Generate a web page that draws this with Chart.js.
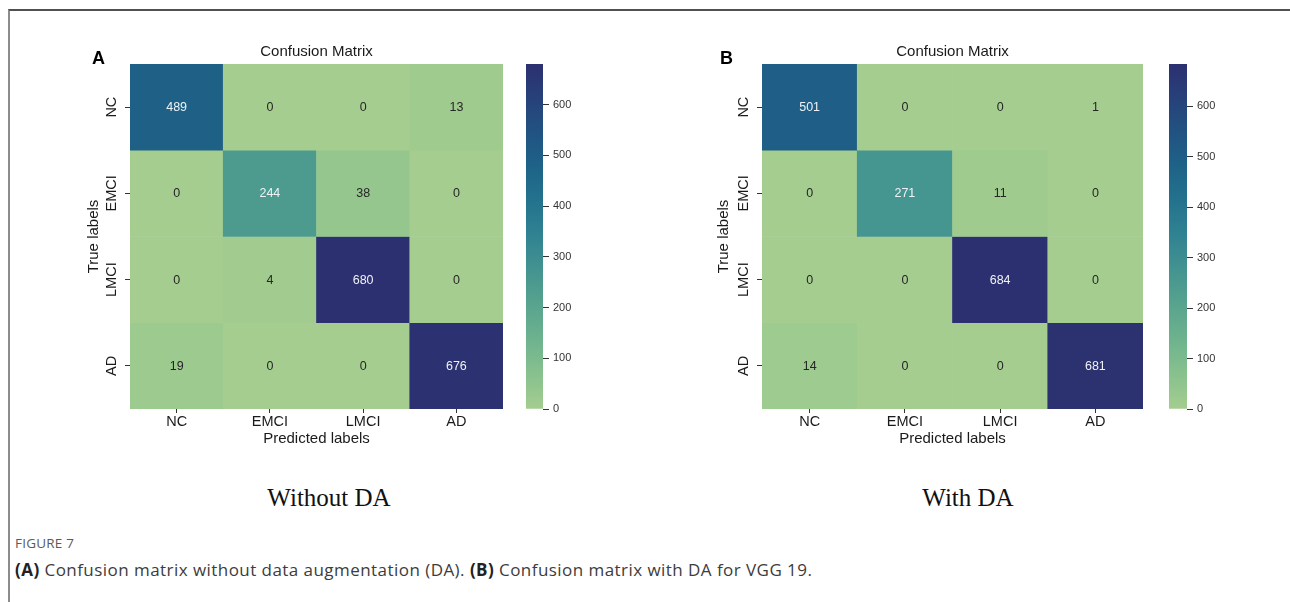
<!DOCTYPE html>
<html><head><meta charset="utf-8">
<script src="https://cdn.jsdelivr.net/npm/chart.js@4.4.1/dist/chart.umd.min.js"></script>
<style>
html,body{margin:0;padding:0;background:#fff;}
body{width:1290px;height:602px;position:relative;overflow:hidden;font-family:"Liberation Sans",Arial,sans-serif;}
.frame{position:absolute;left:8px;top:9px;width:1300px;height:620px;border-top:2px solid #505050;border-left:2px solid #8c8c8c;box-sizing:border-box;}
canvas{position:absolute;}
.panel{position:absolute;font:bold 18px/1 "Liberation Sans",Arial,sans-serif;color:#000;}
.sub{position:absolute;font:25px/1 "Liberation Serif","Times New Roman",serif;color:#111;transform:translateX(-50%);white-space:nowrap;}
.fig{position:absolute;left:15px;top:537px;font:13.5px/1 "Open Sans",sans-serif;color:#5a5a5a;letter-spacing:0.2px;}
.cap{position:absolute;left:15px;top:561px;font:17px/1 "Open Sans",sans-serif;color:#3c3c3c;white-space:nowrap;letter-spacing:0.45px;}
.cap b{color:#222;font-weight:700;}
</style>
</head><body>
<div class="frame"></div>
<canvas id="hA" width="513" height="440" style="left:60px;top:30px"></canvas>
<canvas id="cA" width="70" height="440" style="left:516px;top:30px"></canvas>
<canvas id="hB" width="521" height="440" style="left:692px;top:30px"></canvas>
<canvas id="cB" width="70" height="440" style="left:1159px;top:30px"></canvas>
<div class="panel" style="left:92px;top:49px">A</div>
<div class="panel" style="left:720px;top:49px">B</div>
<div class="sub" style="left:329px;top:485px">Without DA</div>
<div class="sub" style="left:968px;top:485px">With DA</div>
<div class="fig">FIGURE 7</div>
<div class="cap"><b>(A)</b> Confusion matrix without data augmentation (DA). <b>(B)</b> Confusion matrix with DA for VGG 19.</div>
<script>
// ---- data ----
const categories = ['NC', 'EMCI', 'LMCI', 'AD'];
const valuesWithoutDA = [
  [489, 0, 0, 13],
  [0, 244, 38, 0],
  [0, 4, 680, 0],
  [19, 0, 0, 676]
];
const valuesWithDA = [
  [501, 0, 0, 1],
  [0, 271, 11, 0],
  [0, 0, 684, 0],
  [14, 0, 0, 681]
];
const colorbarTicks = [0, 100, 200, 300, 400, 500, 600];

// ---- colormap (seaborn "crest"-like) ----
const cmapStops = [
  [0.00, [164,205,143]], [0.10, [136,193,142]], [0.20, [110,179,142]],
  [0.30, [89,164,142]],  [0.40, [68,148,144]],  [0.50, [49,131,146]],
  [0.60, [36,115,142]],  [0.70, [30,99,136]],   [0.80, [33,83,130]],
  [0.90, [39,65,122]],   [1.00, [44,48,112]]
];
function cmapRGB(t) {
  t = Math.max(0, Math.min(1, t));
  for (let i = 1; i < cmapStops.length; i++) {
    const [t1, c1] = cmapStops[i], [t0, c0] = cmapStops[i-1];
    if (t <= t1) {
      const f = (t - t0) / (t1 - t0);
      return c0.map((v, k) => Math.round(v + (c1[k] - v) * f));
    }
  }
  return cmapStops[cmapStops.length-1][1];
}
const rgbStr = c => `rgb(${c[0]},${c[1]},${c[2]})`;
function lum(c) {
  const l = c.map(v => { v /= 255; return v <= 0.03928 ? v/12.92 : Math.pow((v+0.055)/1.055, 2.4); });
  return 0.2126*l[0] + 0.7152*l[1] + 0.0722*l[2];
}
const FONT = '"Liberation Sans", Arial, sans-serif';

const annotPlugin = {
  id: 'annot',
  afterDatasetsDraw(chart) {
    const {ctx, scales: {x, y}} = chart;
    const m = chart.options.plugins.annot.matrix, vmax = chart.options.plugins.annot.vmax;
    ctx.save();
    ctx.font = '12.5px ' + FONT;
    ctx.textAlign = 'center';
    ctx.textBaseline = 'middle';
    m.forEach((row, r) => row.forEach((v, c) => {
      const col = cmapRGB(v / vmax);
      ctx.fillStyle = lum(col) > 0.408 ? '#262626' : '#eef2f5';
      ctx.fillText(String(v), x.getPixelForValue(c), y.getPixelForValue(r) + 0.5);
    }));
    ctx.restore();
  }
};

function heatmap(id, matrix, yTitlePad) {
  const vmax = Math.max(...matrix.flat());
  const datasets = matrix.map((row, r) => ({
    data: categories.map(() => [r - 0.5, r + 0.5]),
    backgroundColor: row.map(v => rgbStr(cmapRGB(v / vmax))),
    borderWidth: 0,
    barPercentage: 1,
    categoryPercentage: 1,
    grouped: false
  }));
  return new Chart(document.getElementById(id), {
    type: 'bar',
    data: {labels: categories, datasets},
    plugins: [annotPlugin],
    options: {
      responsive: false, animation: false, devicePixelRatio: 1,
      layout: {padding: {left: 0, top: 0, right: 70, bottom: 0}},
      plugins: {legend: {display: false}, tooltip: {enabled: false}, annot: {matrix, vmax}},
      scales: {
        x: {
          position: 'bottom',
          grid: {display: true, drawOnChartArea: false, offset: false, tickLength: 4, tickColor: '#333', tickWidth: 1},
          border: {display: false},
          ticks: {color: '#1a1a1a', font: {size: 14.5, family: FONT}, padding: 0, maxRotation: 0, minRotation: 0},
          title: {display: true, text: 'Predicted labels', color: '#1a1a1a', font: {size: 15, family: FONT}, padding: {top: 0, bottom: 22}},
          afterFit: s => { s.height = 61; }
        },
        x2: {
          type: 'category', position: 'top', labels: categories,
          grid: {display: false}, border: {display: false}, ticks: {display: false},
          title: {display: true, text: 'Confusion Matrix', color: '#1a1a1a', font: {size: 15, family: FONT}, padding: {top: 13, bottom: 0}},
          afterFit: s => { s.height = 34; }
        },
        y: {
          type: 'linear', reverse: true, min: -0.5, max: 3.5,
          grid: {display: true, drawOnChartArea: false, tickLength: 5, tickColor: '#333', tickWidth: 1},
          border: {display: false},
          afterBuildTicks: s => { s.ticks = categories.map((_, i) => ({value: i})); },
          ticks: {color: '#1a1a1a', font: {size: 14.5, family: FONT}, minRotation: 90, maxRotation: 90,
                  crossAlign: 'center', padding: -5, callback: v => categories[v] ?? ''},
          title: {display: true, text: 'True labels', color: '#1a1a1a', font: {size: 15, family: FONT}, padding: {top: yTitlePad, bottom: 0}},
          afterFit: s => { s.width = 70; }
        }
      }
    }
  });
}

function colorbar(id, matrix, padLeft, barW) {
  const vmax = Math.max(...matrix.flat());
  const cv = document.getElementById(id);
  return new Chart(cv, {
    type: 'bar',
    data: {labels: [''], datasets: [{
      data: [[0, vmax]],
      borderWidth: 0, barPercentage: 1, categoryPercentage: 1,
      backgroundColor: (ctx) => {
        const a = ctx.chart.chartArea;
        if (!a) return rgbStr(cmapRGB(0));
        const g = ctx.chart.ctx.createLinearGradient(0, a.bottom, 0, a.top);
        cmapStops.forEach(([t, c]) => g.addColorStop(t, rgbStr(c)));
        return g;
      }
    }]},
    options: {
      responsive: false, animation: false, devicePixelRatio: 1,
      layout: {padding: {left: padLeft, top: 34, right: 0, bottom: 61}},
      plugins: {legend: {display: false}, tooltip: {enabled: false}},
      scales: {
        x: {display: false},
        y: {
          position: 'right', min: 0, max: vmax,
          afterBuildTicks: s => { s.ticks = colorbarTicks.map(v => ({value: v})); },
          grid: {display: true, drawOnChartArea: false, tickLength: 6, tickColor: '#333', tickWidth: 1},
          border: {display: false},
          ticks: {color: '#333', font: {size: 11, family: FONT}, padding: 4},
          afterFit: s => { s.width = cv.width - padLeft - barW; }
        }
      }
    }
  });
}

heatmap('hA', valuesWithoutDA, 25);
colorbar('cA', valuesWithoutDA, 10, 17);
heatmap('hB', valuesWithDA, 23);
colorbar('cB', valuesWithDA, 10, 18);
</script>
</body></html>
